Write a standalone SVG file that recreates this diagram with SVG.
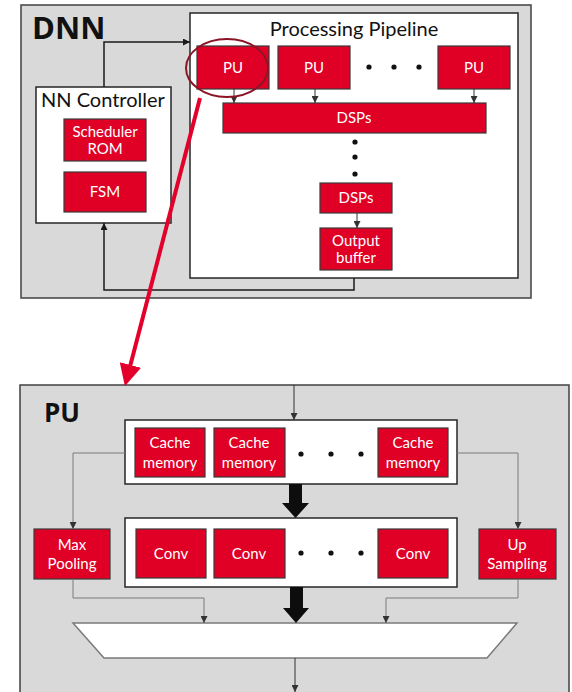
<svg xmlns="http://www.w3.org/2000/svg" width="572" height="692" viewBox="0 0 572 692">
  <style>
    .panel { fill: #d9d9d9; stroke: #404040; stroke-width: 1.5; }
    .frame { fill: #ffffff; stroke: #262626; stroke-width: 1.5; }
    .blk { fill: #e00026; stroke: #3a3a3a; stroke-width: 1.2; }
    .lbl { font-family: Lato, "Open Sans", sans-serif; font-size: 15px; fill: #ffffff; text-anchor: middle; }
    .title { font-family: Lato, "Open Sans", sans-serif; font-size: 20px; fill: #111111; }
    .big { font-family: "Open Sans", Lato, sans-serif; font-weight: bold; fill: #111111; }
    .wire { fill: none; stroke: #1a1a1a; stroke-width: 1.5; }
    .thin { fill: none; stroke: #333333; stroke-width: 1; }
    .gray { fill: none; stroke: #7a7a7a; stroke-width: 1; }
    .dot { fill: #111111; }
  </style>
  <defs>
    <marker id="ah" viewBox="0 0 10 10" refX="10" refY="5" markerWidth="7" markerHeight="7" markerUnits="userSpaceOnUse" orient="auto">
      <path d="M0,0 L10,5 L0,10 Z" fill="#1a1a1a"/>
    </marker>
    <marker id="ahs" viewBox="0 0 10 10" refX="10" refY="5" markerWidth="7" markerHeight="7" markerUnits="userSpaceOnUse" orient="auto">
      <path d="M0,0 L10,5 L0,10 Z" fill="#333333"/>
    </marker>
    <marker id="ahred" viewBox="0 0 10 10" refX="8" refY="5" markerWidth="22" markerHeight="22" markerUnits="userSpaceOnUse" orient="auto">
      <path d="M0,0 L10,5 L0,10 Z" fill="#e3002b"/>
    </marker>
  </defs>

  <!-- DNN top-level panel -->
  <g id="dnn">
    <rect class="panel" x="21" y="5" width="510" height="293"/>
    <text class="big" x="32" y="39" font-size="31">DNN</text>
  </g>

  <g id="nn-controller">
    <rect class="frame" x="36" y="87" width="135" height="136"/>
    <text class="title" x="41" y="107">NN Controller</text>
  </g>
  <g id="scheduler-rom">
    <rect class="blk" x="64" y="119" width="82" height="42"/>
    <text class="lbl" x="105" y="137">Scheduler</text>
    <text class="lbl" x="105" y="154">ROM</text>
  </g>
  <g id="fsm">
    <rect class="blk" x="64" y="172" width="82" height="40"/>
    <text class="lbl" x="105" y="197">FSM</text>
  </g>

  <g id="processing-pipeline">
    <rect class="frame" x="190" y="13" width="328" height="265"/>
    <text class="title" x="354" y="36" text-anchor="middle">Processing Pipeline</text>
  </g>
  <g id="pu-1">
    <rect class="blk" x="197" y="46" width="72" height="43"/>
    <text class="lbl" x="233" y="73">PU</text>
  </g>
  <g id="pu-2">
    <rect class="blk" x="278" y="46" width="72" height="43"/>
    <text class="lbl" x="314" y="73">PU</text>
  </g>
  <g id="pu-n">
    <rect class="blk" x="438" y="46" width="72" height="43"/>
    <text class="lbl" x="474" y="73">PU</text>
  </g>
  <g id="pu-dots">
    <circle class="dot" cx="369" cy="67" r="2.6"/>
    <circle class="dot" cx="394" cy="67" r="2.6"/>
    <circle class="dot" cx="419" cy="67" r="2.6"/>
  </g>
  <g id="dsps-wide">
    <rect class="blk" x="223" y="103" width="263" height="30"/>
    <text class="lbl" x="354" y="123">DSPs</text>
  </g>
  <g id="dsp-dots">
    <circle class="dot" cx="355" cy="142" r="2.6"/>
    <circle class="dot" cx="355" cy="157" r="2.6"/>
    <circle class="dot" cx="355" cy="174" r="2.6"/>
  </g>
  <g id="dsps-last">
    <rect class="blk" x="320" y="183" width="72" height="30"/>
    <text class="lbl" x="356" y="203">DSPs</text>
  </g>
  <g id="output-buffer">
    <rect class="blk" x="320" y="228" width="72" height="42"/>
    <text class="lbl" x="356" y="246">Output</text>
    <text class="lbl" x="356" y="263">buffer</text>
  </g>

  <!-- PU detail panel -->
  <g id="pu-detail">
    <rect class="panel" x="20" y="385" width="549" height="320"/>
    <text class="big" x="44" y="422" font-size="26">PU</text>
  </g>
  <g id="cache-bank">
    <rect class="frame" x="125" y="420" width="332" height="64"/>
  </g>
  <g id="cache-1">
    <rect class="blk" x="135" y="428" width="70" height="49"/>
    <text class="lbl" x="170" y="448">Cache</text>
    <text class="lbl" x="170" y="468">memory</text>
  </g>
  <g id="cache-2">
    <rect class="blk" x="214" y="428" width="71" height="49"/>
    <text class="lbl" x="249" y="448">Cache</text>
    <text class="lbl" x="249" y="468">memory</text>
  </g>
  <g id="cache-n">
    <rect class="blk" x="378" y="428" width="70" height="49"/>
    <text class="lbl" x="413" y="448">Cache</text>
    <text class="lbl" x="413" y="468">memory</text>
  </g>
  <g id="cache-dots">
    <circle class="dot" cx="301" cy="454" r="2.6"/>
    <circle class="dot" cx="331" cy="454" r="2.6"/>
    <circle class="dot" cx="361" cy="454" r="2.6"/>
  </g>
  <g id="conv-bank">
    <rect class="frame" x="125" y="518" width="332" height="69"/>
  </g>
  <g id="conv-1">
    <rect class="blk" x="136" y="529" width="70" height="49"/>
    <text class="lbl" x="171" y="559">Conv</text>
  </g>
  <g id="conv-2">
    <rect class="blk" x="214" y="529" width="71" height="49"/>
    <text class="lbl" x="249" y="559">Conv</text>
  </g>
  <g id="conv-n">
    <rect class="blk" x="378" y="529" width="70" height="49"/>
    <text class="lbl" x="413" y="559">Conv</text>
  </g>
  <g id="conv-dots">
    <circle class="dot" cx="301" cy="553" r="2.6"/>
    <circle class="dot" cx="331" cy="553" r="2.6"/>
    <circle class="dot" cx="361" cy="553" r="2.6"/>
  </g>
  <g id="max-pooling">
    <rect class="blk" x="34" y="529" width="76" height="50"/>
    <text class="lbl" x="72" y="550">Max</text>
    <text class="lbl" x="72" y="569">Pooling</text>
  </g>
  <g id="up-sampling">
    <rect class="blk" x="479" y="529" width="77" height="50"/>
    <text class="lbl" x="517" y="550">Up</text>
    <text class="lbl" x="517" y="569">Sampling</text>
  </g>
  <g id="mux">
    <path d="M73,623 L517,623 L487,658 L104,658 Z" fill="#ffffff" stroke="#7a7a7a" stroke-width="1.5"/>
  </g>

  <g id="connectors">
    <!-- DNN level -->
    <path class="wire" d="M104,87 V42 H190" marker-end="url(#ah)"/>
    <path class="wire" d="M354,278 V290 H104 V223" marker-end="url(#ah)"/>
    <path class="thin" d="M234,89 V103" marker-end="url(#ahs)"/>
    <path class="thin" d="M315,89 V103" marker-end="url(#ahs)"/>
    <path class="thin" d="M474,89 V103" marker-end="url(#ahs)"/>
    <path class="thin" d="M357,213 V228" marker-end="url(#ahs)"/>

    <!-- zoom callout -->
    <ellipse cx="227" cy="68" rx="41" ry="29" fill="none" stroke="#8b1526" stroke-width="2"/>
    <path d="M200,98 L126,382" fill="none" stroke="#e3002b" stroke-width="4" marker-end="url(#ahred)"/>

    <!-- PU level -->
    <path class="thin" d="M294,385 V420" marker-end="url(#ahs)"/>
    <path class="gray" d="M125,453 H73 V529" marker-end="url(#ahs)"/>
    <path class="gray" d="M457,453 H518 V529" marker-end="url(#ahs)"/>
    <path class="gray" d="M73,579 V598 H204 V623" marker-end="url(#ahs)"/>
    <path class="gray" d="M518,579 V598 H386 V623" marker-end="url(#ahs)"/>
    <path d="M289,484 H302 V503 H309 L295.5,518 L282,503 H289 Z" fill="#0d0d0d"/>
    <path d="M290,587 H303 V608 H309 L296,623 L283,608 H290 Z" fill="#0d0d0d"/>
    <path class="thin" d="M295,658 V692" marker-end="url(#ahs)"/>
  </g>
</svg>
